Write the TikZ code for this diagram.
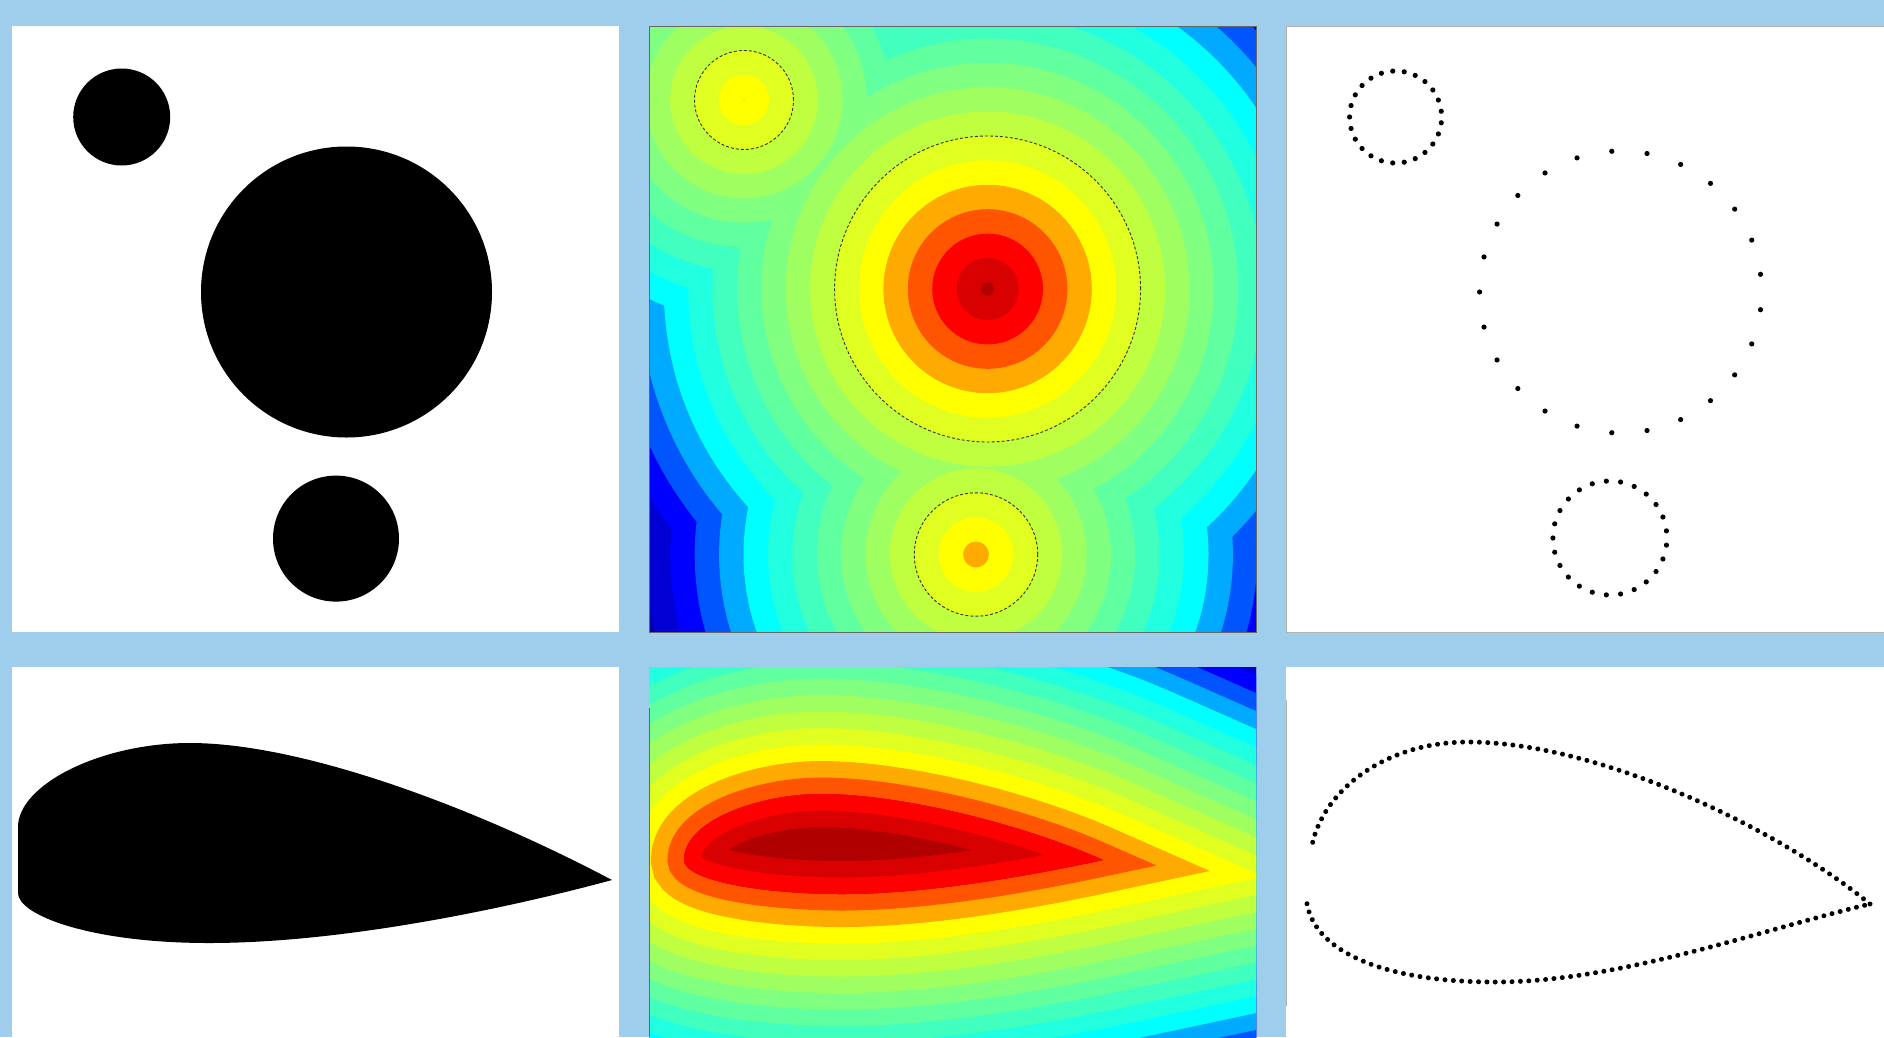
\documentclass[tikz,border=0pt]{standalone}
\usetikzlibrary{decorations.markings}
\definecolor{bgblue}{RGB}{158,206,236}
\definecolor{lv0}{HTML}{B00000}
\definecolor{lv1}{HTML}{D80000}
\definecolor{lv2}{HTML}{FF0000}
\definecolor{lv3}{HTML}{FF5500}
\definecolor{lv4}{HTML}{FFAA00}
\definecolor{lv5}{HTML}{FFFF00}
\definecolor{lv6}{HTML}{E0FF20}
\definecolor{lv7}{HTML}{C0FF40}
\definecolor{lv8}{HTML}{A0FF60}
\definecolor{lv9}{HTML}{80FF80}
\definecolor{lv10}{HTML}{60FFA0}
\definecolor{lv11}{HTML}{40FFBF}
\definecolor{lv12}{HTML}{20FFDF}
\definecolor{lv13}{HTML}{00FFFF}
\definecolor{lv14}{HTML}{00AAFF}
\definecolor{lv15}{HTML}{0055FF}
\definecolor{lv16}{HTML}{0000FF}
\definecolor{lv17}{HTML}{0000D4}
\definecolor{lv18}{HTML}{0000AA}
\definecolor{lv19}{HTML}{000080}
\begin{document}
\begin{tikzpicture}[x=1pt, y=-1pt, panel/.style={fill=white}, frame/.style={draw=gray!60, line width=0.8pt},
	zeroline/.style={draw=black!80, line width=0.9pt, dash pattern=on 3pt off 2pt},
	foilshape/.style={insert path={(1103,860) .. controls (1020.7,823.4) and (900,794) .. (821,794) .. controls (760,794) and (684,820) .. (684,860) .. controls (684,880) and (760,894) .. (842,894) .. controls (930,894) and (1034.5,874.6) .. cycle}},
	beadline/.style={decoration={markings, mark=between positions 0 and 1 step 8.4pt with {\fill (0,0) circle[radius=2.5pt];}}, postaction={decorate}}]
	\useasboundingbox (0,0) rectangle (1884,1037);
	\fill[bgblue] (0,0) rectangle (1884,1037);
	\fill[panel] (12,26) rectangle (619,632);
	\fill[panel] (1286,26) rectangle (1884,632);
	\fill[panel] (12,667) rectangle (619,1037);
	\fill[panel] (1286,667) rectangle (1884,1037);
	\foreach \cx/\cy/\rr in {121.7/117/48.5, 346.5/292/145.5, 336/538.6/63} {\fill[black] (\cx,\cy) circle[radius=\rr pt];}
	\begin{scope}
		\clip (649,26) rectangle (1256,632);
		\fill[lv19] (649,26) rectangle (1256,632);
		\foreach \m in {18,...,0} {
			\foreach \cx/\cy/\rr in {744/100/49.5, 987.6/289/153, 976/554.5/61.7} {
				\pgfmathsetmacro\rad{\rr+24.4*(\m-6)}
				\ifdim\rad pt>0.5pt \fill[fill=lv\m] (\cx,\cy) circle[radius=\rad pt]; \fi
			}
		}
		\foreach \cx/\cy/\rr in {744/100/49.5, 987.6/289/153, 976/554.5/61.7} {\draw[zeroline] (\cx,\cy) circle[radius=\rr pt];}
	\end{scope}
	\draw[black!60, line width=0.6pt] (649,26) rectangle (1256,632);
	\draw[frame] (1286,26) -- (1890,26) (1286,26) -- (1286,632) -- (1890,632);
	\foreach \cx/\cy/\rr in {1395.6/117/46, 1620.6/292/141, 1609.9/538/57} {
		\foreach \k in {0,...,24} {\fill (\cx,\cy) ++(180+14.4*\k:\rr pt) circle[radius=2.6pt];}
	}
	\fill[black] (612,880) .. controls (470,805) and (300,743) .. (190,743) .. controls (100,743) and (18,785) .. (18,827) -- (18,893) .. controls (18,915) and (90,943) .. (209,943) .. controls (350,943) and (520,905) .. cycle;
	\begin{scope}
		\clip (649,667) rectangle (1256,1037);
		\fill[lv19] (649,667) rectangle (1256,1037);
		\foreach \m in {18,...,3} {
			\pgfmathsetmacro\wd{33*(\m-2)}
			\draw[draw=lv\m, line width=\wd pt, line join=miter, miter limit=10, foilshape];
		}
		\clip[foilshape];
		\fill[lv0] (649,667) rectangle (1256,1037);
		\draw[draw=lv1, line width=66pt, foilshape];
		\draw[draw=lv2, line width=33pt, foilshape];
	\end{scope}
	\draw[black!60, line width=0.6pt] (649.3,708) -- (649.3,1037);
	\draw[frame] (1286,700) -- (1286,1006);
	\path[beadline] (1312.7,842.3) .. controls (1325,790) and (1385,742) .. (1468,742) .. controls (1600,742) and (1780,830) .. (1870,904);
	\path[beadline] (1307,903.7) .. controls (1315,950) and (1380,982) .. (1495,982) .. controls (1620,982) and (1760,930) .. (1870,904);
\end{tikzpicture}
\end{document}
